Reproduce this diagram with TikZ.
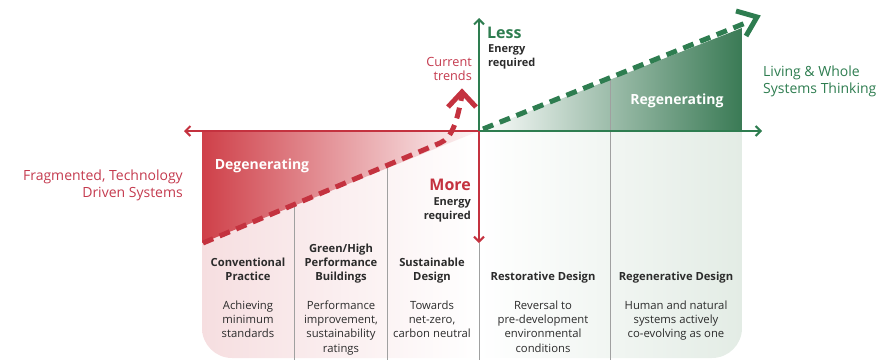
\documentclass[tikz,border=0pt]{standalone}
\usepackage{fontspec}
\setmainfont{Open Sans}
\usetikzlibrary{arrows.meta}
\definecolor{rc}{HTML}{C4323F}
\definecolor{rtext}{HTML}{C43A4E}
\definecolor{gc}{HTML}{2E7D50}
\definecolor{rfill}{HTML}{CF4049}
\definecolor{gfill}{HTML}{3A7A55}
\definecolor{pinkbg}{HTML}{F6DEE0}
\definecolor{greenbg}{HTML}{E3ECE5}
\definecolor{txt}{HTML}{2B2B2B}
\definecolor{sepc}{HTML}{A0A0A0}
\tikzset{
  axis/.style={line width=2pt,-{Straight Barb[length=5pt,width=10pt]}},
  dashline/.style={line width=5pt,dash pattern=on 11pt off 7pt},
  chev/.style={line width=5pt,line join=miter},
  sepline/.style={sepc,line width=1pt},
  coltitle/.style={anchor=north,align=center,inner sep=0pt,text=txt,font=\bfseries\fontsize{11.2}{14}\selectfont},
  coldesc/.style={anchor=north,align=center,inner sep=0pt,text=txt,font=\fontsize{11.3}{14.3}\selectfont},
  phase/.style={inner sep=0pt,text=white,font=\bfseries\fontsize{14}{16}\selectfont},
  sidelabel/.style={inner sep=0pt,font=\fontsize{14}{16.5}\selectfont},
  big/.style={inner sep=0pt,font=\bfseries\fontsize{16}{18}\selectfont},
  energy/.style={inner sep=0pt,text=txt,font=\bfseries\fontsize{11}{14}\selectfont}
}
\begin{document}
\begin{tikzpicture}[x=1pt,y=-1pt]
\useasboundingbox (0,0) rectangle (888,360);
% panel background
\begin{scope}
  \clip (0,131) rectangle (888,360);
  \clip[rounded corners=30pt] (202,80) rectangle (742,358);
  \shade[left color=pinkbg,right color=white] (202,131) rectangle (479,360);
  \shade[left color=white,right color=greenbg] (479,131) rectangle (742,360);
\end{scope}
% triangles
\shade[left color=rfill,right color=rfill!4] (202,131) -- (479,131) -- (202,243) -- cycle;
\shade[left color=white,right color=gfill] (479,131) -- (742,131) -- (742,28) -- cycle;
% separators
\draw[sepline] (294,207) -- (294,360);
\draw[sepline] (387,166) -- (387,360);
\draw[sepline] (479,243) -- (479,360);
\draw[sepline] (610,79) -- (610,360);
% axes
\coordinate (O) at (479,131);
\coordinate (L) at (184,131);
\coordinate (R) at (762,131);
\coordinate (U) at (479,18);
\coordinate (D) at (479,243);
\draw[axis,rc] (O) -- (L);
\draw[axis,gc] (O) -- (R);
\draw[axis,gc] (O) -- (U);
\draw[axis,rc] (O) -- (D);
% dashed trends
\coordinate (rs) at (203,243);
\coordinate (rm) at (440,143);
\coordinate (rt) at (462,95);
\draw[dashline,rc] (rs) -- (rm) .. controls (452,138) and (457,122) .. (rt);
\coordinate (ra1) at (448,107);
\coordinate (rtip) at (462,92);
\coordinate (ra2) at (476,107);
\draw[chev,rc] (ra1) -- (rtip) -- (ra2);
\coordinate (gs) at (483,129);
\coordinate (ge) at (748,22);
\draw[dashline,gc] (gs) -- (ge);
\coordinate (ga1) at (736,11);
\coordinate (gtip) at (757,17);
\coordinate (ga2) at (746,36);
\draw[chev,gc] (ga1) -- (gtip) -- (ga2);
% phase labels
\node[phase] (deg) at (262,166) {Degenerating};
\node[phase] (reg) at (677,101) {Regenerating};
% side labels
\node[sidelabel,anchor=north east,align=right,text=rtext] (frag) at (183,170) {Fragmented, Technology\\Driven Systems};
\node[sidelabel,anchor=north west,align=left,text=gc] (living) at (763,66) {Living \& Whole\\Systems Thinking};
\node[inner sep=0pt,anchor=north east,align=right,text=rtext,font=\fontsize{12.7}{14.5}\selectfont] (cur) at (472,57) {Current\\trends};
% energy labels
\node[big,anchor=north west,text=gc] (less) at (487,27) {Less};
\node[energy,anchor=north west,align=left] (lessE) at (488,44.5) {Energy\\required};
\node[big,anchor=north east,text=rc] (more) at (471,179) {More};
\node[energy,anchor=north east,align=right] (moreE) at (471,197.5) {Energy\\required};
% column titles
\node[coltitle] (c1) at (248,257.5) {Conventional\\Practice};
\node[coltitle] (c2) at (341,244) {Green/High\\Performance\\Buildings};
\node[coltitle] (c3) at (432,257.5) {Sustainable\\Design};
\node[coltitle] (c4) at (543,271.5) {Restorative Design};
\node[coltitle] (c5) at (676,271.5) {Regenerative Design};
% descriptions
\node[coldesc] (d1) at (248,300.5) {Achieving\\minimum\\standards};
\node[coldesc] (d2) at (341,300.5) {Performance\\improvement,\\sustainability\\ratings};
\node[coldesc] (d3) at (432,300.5) {Towards\\net-zero,\\carbon neutral};
\node[coldesc] (d4) at (543,300.5) {Reversal to\\pre-development\\environmental\\conditions};
\node[coldesc] (d5) at (676,300.5) {Human and natural\\systems actively\\co-evolving as one};
\end{tikzpicture}
\end{document}
